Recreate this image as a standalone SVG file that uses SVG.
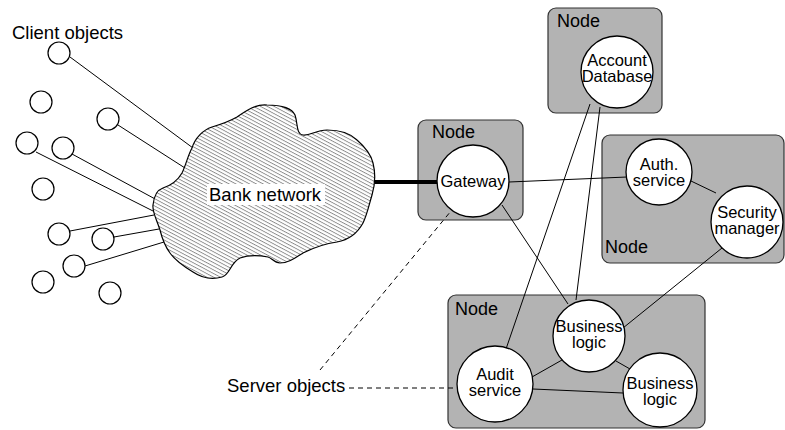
<svg xmlns="http://www.w3.org/2000/svg" width="785" height="430" viewBox="0 0 785 430">
  <defs>
    <pattern id="hatch" patternUnits="userSpaceOnUse" width="6" height="3.2" patternTransform="rotate(28)">
      <rect width="6" height="3.2" fill="#ffffff"/>
      <line x1="0" y1="0.5" x2="6" y2="0.5" stroke="#555555" stroke-width="0.7"/>
    </pattern>
    <style>
      text { font-family: "Liberation Sans", Arial, Helvetica, sans-serif; fill: #000; }
      .lbl { font-size: 18.5px; }
      .nodelbl { font-size: 18px; }
      .in { font-size: 16.5px; text-anchor: middle; }
      .box { fill: #b3b3b3; stroke: #333333; stroke-width: 1.2; }
      .obj { fill: #ffffff; stroke: #000000; stroke-width: 1.3; }
      .cli { fill: #ffffff; stroke: #000000; stroke-width: 1.2; }
      .ln { stroke: #000000; stroke-width: 1; fill: none; }
      .dash { stroke: #000000; stroke-width: 1; fill: none; stroke-dasharray: 5 4; }
    </style>
  </defs>

  <rect width="785" height="430" fill="#ffffff"/>

  <!-- labels -->
  <text class="lbl" x="12" y="39">Client objects</text>
  <text class="lbl" x="227" y="392">Server objects</text>

  <!-- node boxes -->
  <g id="node-gateway">
    <rect class="box" x="418" y="120" width="105" height="100" rx="8"/>
    <text class="nodelbl" x="432" y="138">Node</text>
  </g>
  <g id="node-account">
    <rect class="box" x="548" y="8" width="114" height="105" rx="8"/>
    <text class="nodelbl" x="557" y="27">Node</text>
  </g>
  <g id="node-auth">
    <rect class="box" x="602" y="135" width="182" height="128" rx="8"/>
    <text class="nodelbl" x="605" y="253">Node</text>
  </g>
  <g id="node-business">
    <rect class="box" x="448" y="295" width="257" height="133" rx="8"/>
    <text class="nodelbl" x="455" y="315">Node</text>
  </g>

  <!-- connectors -->
  <g id="connectors">
    <!-- client links into the network -->
    <line class="ln" x1="70" y1="57" x2="193" y2="148"/>
    <line class="ln" x1="118" y1="125" x2="185" y2="168"/>
    <line class="ln" x1="36" y1="152" x2="155" y2="212"/>
    <line class="ln" x1="72" y1="154" x2="157" y2="200"/>
    <line class="ln" x1="70" y1="231" x2="154" y2="215"/>
    <line class="ln" x1="114" y1="237" x2="159" y2="229"/>
    <line class="ln" x1="85" y1="266" x2="164" y2="242"/>
    <!-- network to gateway -->
    <line x1="372" y1="182" x2="438" y2="182" stroke="#000" stroke-width="4"/>
    <!-- server links -->
    <line class="ln" x1="509" y1="182" x2="627" y2="177"/>
    <line class="ln" x1="691" y1="181" x2="716" y2="193"/>
    <line class="ln" x1="722" y1="248" x2="623" y2="328"/>
    <line class="ln" x1="502" y1="205" x2="568" y2="304"/>
    <line class="ln" x1="600" y1="107" x2="576" y2="300"/>
    <line class="ln" x1="590" y1="104" x2="506" y2="349"/>
    <line class="ln" x1="532" y1="377" x2="562" y2="360"/>
    <line class="ln" x1="533" y1="389" x2="623" y2="393"/>
    <line class="ln" x1="616" y1="361" x2="630" y2="369"/>
    <!-- server-object pointers -->
    <line class="dash" x1="349" y1="388" x2="457" y2="388"/>
    <line class="dash" x1="320" y1="370" x2="451" y2="211"/>
  </g>

  <!-- network cloud -->
  <g id="bank-network">
    <path fill="url(#hatch)" stroke="#000" stroke-width="1.2" d="M192,148 C195,138 203,130 212,127 C222,124 230,121 237,117 C247,110 256,104 267,105 C280,105 292,108 295,115 C298,124 296,134 303,135 C310,136 316,130 327,130 C338,130 350,133 357,140 C365,147 371,154 373,163 C376,175 375,185 372,195 C369,205 367,215 363,223 C357,234 348,240 337,242 C322,244 313,248 303,253 C295,258 288,263 280,263 C274,263 272,258 268,257 C258,255 248,255 240,258 C230,263 230,275 222,277 C212,280 202,278 193,272 C183,266 175,260 170,253 C164,245 162,238 160,230 C157,220 152,212 153,205 C154,195 157,190 163,188 C172,185 178,180 182,173 C186,165 188,155 192,148 Z"/>
    <rect x="207" y="184" width="118" height="21" fill="#ffffff"/>
    <text class="lbl" x="209" y="201">Bank network</text>
  </g>

  <!-- client objects -->
  <g id="clients">
    <circle class="cli" cx="59" cy="53" r="11"/>
    <circle class="cli" cx="41" cy="102" r="11"/>
    <circle class="cli" cx="108" cy="119" r="11"/>
    <circle class="cli" cx="27" cy="143" r="11"/>
    <circle class="cli" cx="63" cy="148" r="11"/>
    <circle class="cli" cx="43" cy="189" r="11"/>
    <circle class="cli" cx="59" cy="234" r="11"/>
    <circle class="cli" cx="103" cy="239" r="11"/>
    <circle class="cli" cx="74" cy="266" r="11"/>
    <circle class="cli" cx="43" cy="282" r="11"/>
    <circle class="cli" cx="110" cy="293" r="11"/>
  </g>

  <!-- server objects -->
  <g id="gateway">
    <circle class="obj" cx="473" cy="181" r="36"/>
    <text class="in" x="473" y="187">Gateway</text>
  </g>
  <g id="account-database">
    <circle class="obj" cx="617" cy="72" r="36"/>
    <text class="in" x="617" y="66">Account</text>
    <text class="in" x="617" y="82">Database</text>
  </g>
  <g id="auth-service">
    <circle class="obj" cx="659" cy="172" r="33"/>
    <text class="in" x="659" y="170">Auth.</text>
    <text class="in" x="659" y="186">service</text>
  </g>
  <g id="security-manager">
    <circle class="obj" cx="747" cy="222" r="36"/>
    <text class="in" x="747" y="218">Security</text>
    <text class="in" x="747" y="234">manager</text>
  </g>
  <g id="business-logic-1">
    <circle class="obj" cx="589" cy="336" r="36"/>
    <text class="in" x="589" y="332">Business</text>
    <text class="in" x="589" y="348">logic</text>
  </g>
  <g id="audit-service">
    <circle class="obj" cx="495" cy="384" r="38"/>
    <text class="in" x="495" y="380">Audit</text>
    <text class="in" x="495" y="396">service</text>
  </g>
  <g id="business-logic-2">
    <circle class="obj" cx="660" cy="390" r="37"/>
    <text class="in" x="660" y="389">Business</text>
    <text class="in" x="660" y="405">logic</text>
  </g>
</svg>
